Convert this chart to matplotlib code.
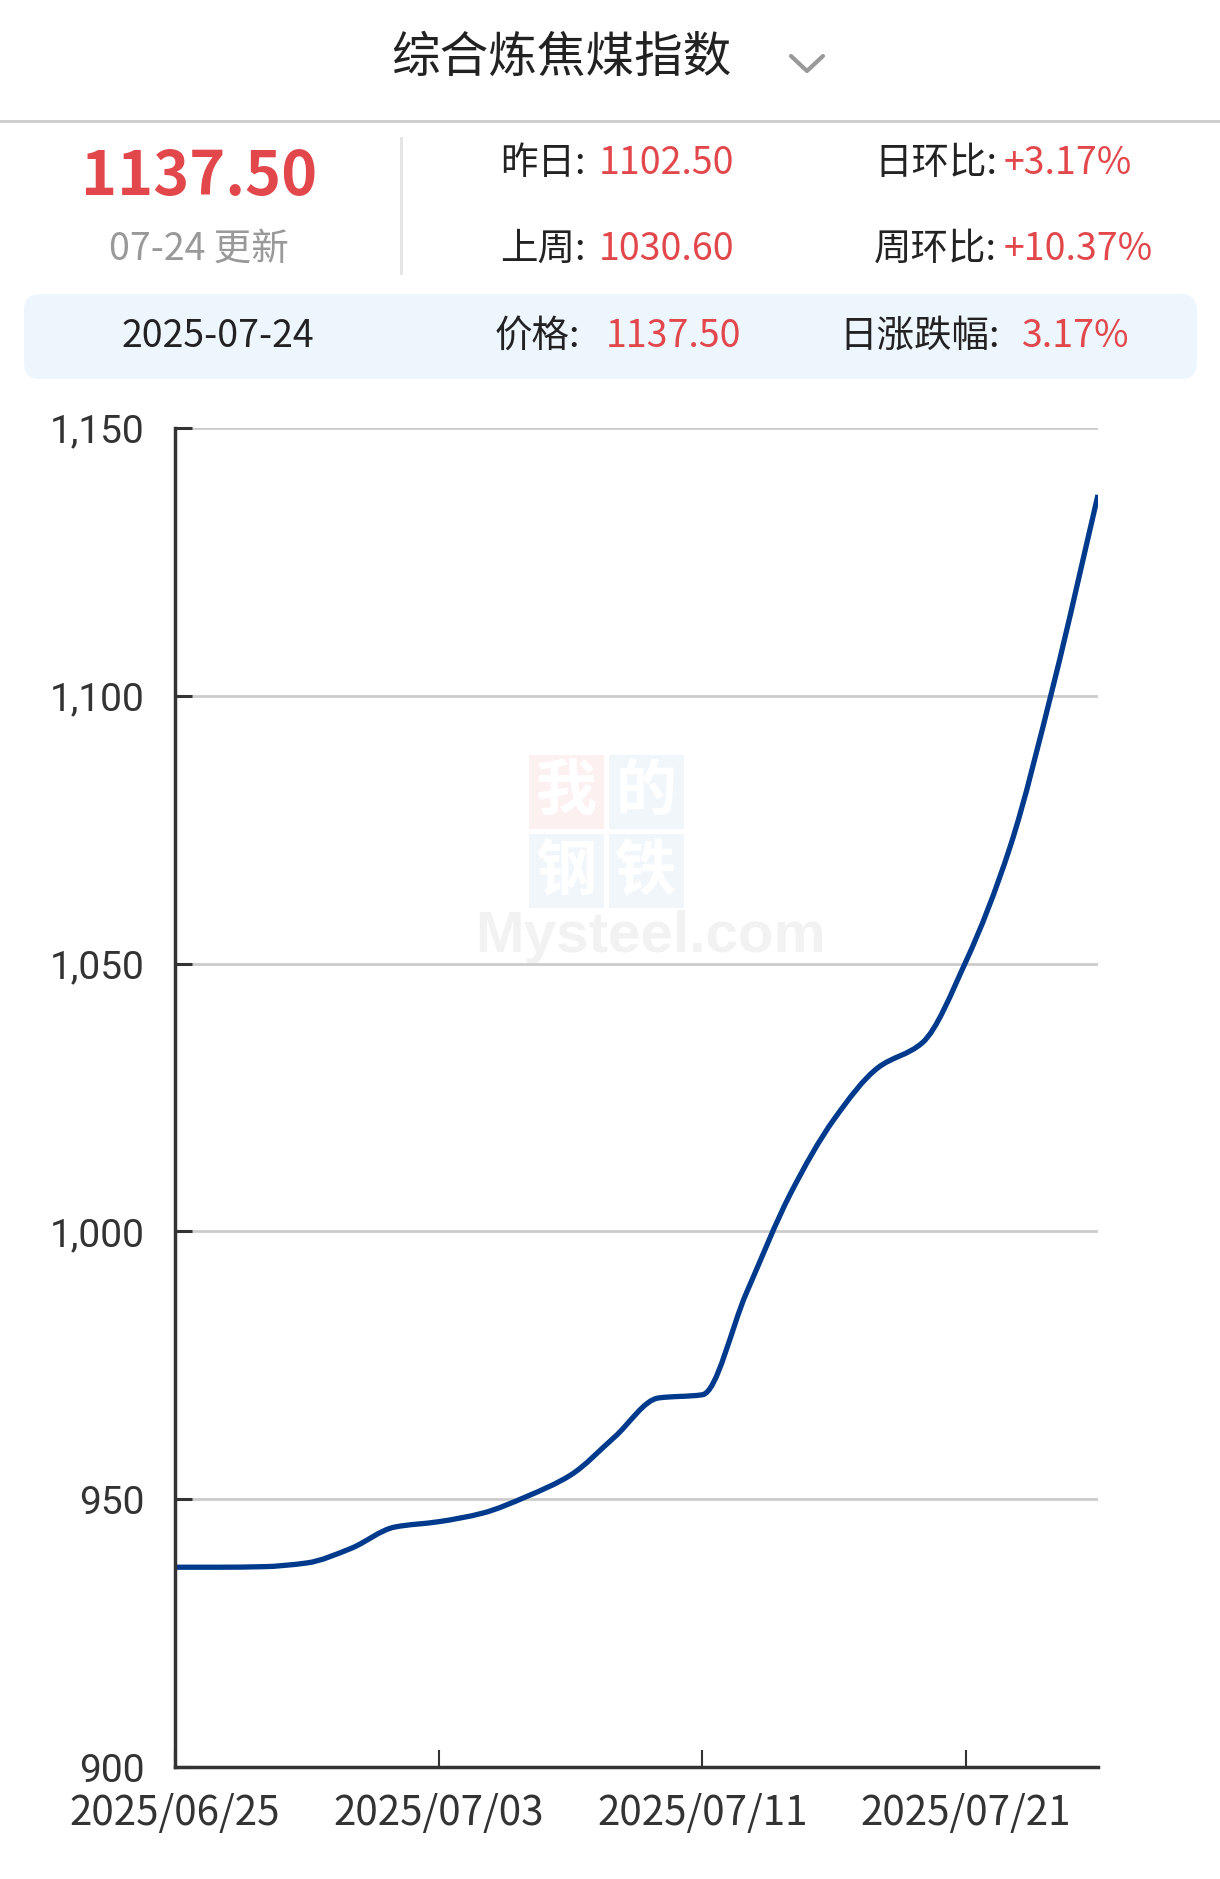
import numpy as np
import matplotlib as mpl
mpl.use('Agg')
import matplotlib.pyplot as plt
from matplotlib.path import Path
from matplotlib.patches import PathPatch, FancyBboxPatch, Rectangle

plt.rcParams['font.family'] = ['Noto Sans CJK SC', 'DejaVu Sans']

W, H = 1220, 1879

# data
dates = ['2025/06/25', '2025/06/26', '2025/06/27', '2025/06/30', '2025/07/01',
         '2025/07/02', '2025/07/03', '2025/07/04', '2025/07/07', '2025/07/08',
         '2025/07/09', '2025/07/10', '2025/07/11', '2025/07/14', '2025/07/15',
         '2025/07/16', '2025/07/17', '2025/07/18', '2025/07/21', '2025/07/22',
         '2025/07/23', '2025/07/24']
values = [937.3, 937.3, 937.4, 938.1, 940.8, 944.8, 945.8, 947.4, 950.5, 954.5,
          961.6, 968.9, 969.5, 988.5, 1007.0, 1021.0, 1030.6, 1035.2, 1050.5,
          1071.8, 1102.5, 1137.5]
tick_idx = [0, 6, 12, 18]
y_ticks = [900, 950, 1000, 1050, 1100, 1150]

title = '综合炼焦煤指数'
latest = '1137.50'
updated = '07-24 更新'
info_rows = [('昨日:', '1102.50', '日环比:', '+3.17%'),
             ('上周:', '1030.60', '周环比:', '+10.37%')]
bar_date = '2025-07-24'
bar_items = [('价格:', '1137.50'), ('日涨跌幅:', '3.17%')]

RED = '#e2474b'
DARK = '#222222'
LINE = '#003a8c'

fig = plt.figure(figsize=(W / 100, H / 100), dpi=100)

# overlay in pixel coords for header and watermark
bg = fig.add_axes([0, 0, 1, 1], zorder=0)
bg.set_xlim(0, W)
bg.set_ylim(H, 0)
bg.axis('off')

bg.text(561, 58, title, fontsize=35, color=DARK, ha='center', va='center')
bg.plot([791, 807, 823], [56, 71, 56], color='#999999', lw=3, solid_capstyle='round',
        solid_joinstyle='round')
bg.plot([0, W], [121, 121], color='#cccccc', lw=2)

bg.text(199, 177, latest, fontsize=44, color=RED, fontweight='bold', ha='center', va='center')
bg.text(199, 249, updated, fontsize=27, color='#999999', ha='center', va='center')
bg.plot([401, 401], [138, 273], color='#e3e3e3', lw=2)

for (l1, v1, l2, v2), y in zip(info_rows, [163, 249]):
    bg.text(500, y, l1, fontsize=27, color=DARK, ha='left', va='center')
    bg.text(599, y, v1, fontsize=27, color=RED, ha='left', va='center')
    bg.text(997, y, l2, fontsize=27, color=DARK, ha='right', va='center')
    bg.text(1004, y, v2, fontsize=27, color=RED, ha='left', va='center')

bg.add_patch(FancyBboxPatch((24, 294), 1173, 85, boxstyle='round,pad=0,rounding_size=16',
                            fc='#eef6fd', ec='none'))
bg.text(218, 336, bar_date, fontsize=27, color=DARK, ha='center', va='center')
bg.text(495, 336, bar_items[0][0], fontsize=27, color=DARK, ha='left', va='center')
bg.text(606, 336, bar_items[0][1], fontsize=27, color=RED, ha='left', va='center')
bg.text(839, 336, bar_items[1][0], fontsize=27, color=DARK, ha='left', va='center')
bg.text(1022, 336, bar_items[1][1], fontsize=27, color=RED, ha='left', va='center')

# watermark
wm = [('我', 529, 755, '#fdf0f0'), ('的', 609, 755, '#f1f6fb'),
      ('钢', 529, 834, '#f1f6fb'), ('铁', 609, 834, '#f1f6fb')]
for ch, x0, y0, c in wm:
    bg.add_patch(Rectangle((x0, y0), 75, 74, fc=c, ec='none'))
    bg.text(x0 + 37, y0 + 38, ch, fontsize=44, color='white', fontweight='bold',
            ha='center', va='center')
bg.text(650, 952, 'Mysteel.com', fontsize=42, color='#f2f2f2', fontweight='bold',
        family='Liberation Sans', ha='center', va='baseline')

# chart
ax = fig.add_axes([175 / W, 1 - 1767 / H, 923 / W, 1339 / H], zorder=1)
ax.patch.set_alpha(0)
x = np.arange(len(values))
y = np.array(values)

# monotone cubic tangents -> bezier segments
h = np.diff(x).astype(float)
d = np.diff(y) / h
m = np.zeros_like(y)
m[0], m[-1] = d[0], d[-1]
for i in range(1, len(y) - 1):
    if d[i - 1] * d[i] <= 0:
        m[i] = 0
    else:
        m[i] = 2 / (1 / d[i - 1] + 1 / d[i])
verts = [(x[0], y[0])]
codes = [Path.MOVETO]
for i in range(len(y) - 1):
    verts += [(x[i] + h[i] / 3, y[i] + m[i] * h[i] / 3),
              (x[i + 1] - h[i] / 3, y[i + 1] - m[i + 1] * h[i] / 3),
              (x[i + 1], y[i + 1])]
    codes += [Path.CURVE4] * 3
ax.add_patch(PathPatch(Path(verts, codes), fc='none', ec=LINE, lw=3.8,
                       capstyle='butt', zorder=3))

ax.set_xlim(0, len(values) - 1)
ax.set_ylim(900, 1150)
ax.set_yticks(y_ticks)
ax.set_yticklabels([f'{v:,}' for v in y_ticks], family='Roboto', fontsize=28, color='#333333')
ax.set_xticks(tick_idx)
ax.set_xticklabels([dates[i] for i in tick_idx], fontsize=29, color='#333333')
ax.tick_params(axis='y', direction='in', length=12, width=2.2, color='#333333', pad=22)
ax.tick_params(axis='x', direction='in', length=12, width=1.5, color='#333333', pad=19)
for yv in y_ticks[1:]:
    ax.axhline(yv, color='#cccccc', lw=2, zorder=1)
for s in ['top', 'right']:
    ax.spines[s].set_visible(False)
for s in ['left', 'bottom']:
    ax.spines[s].set_color('#333333')
    ax.spines[s].set_linewidth(2.5)
    ax.spines[s].set_zorder(4)

fig.savefig('out.png', dpi=100)
